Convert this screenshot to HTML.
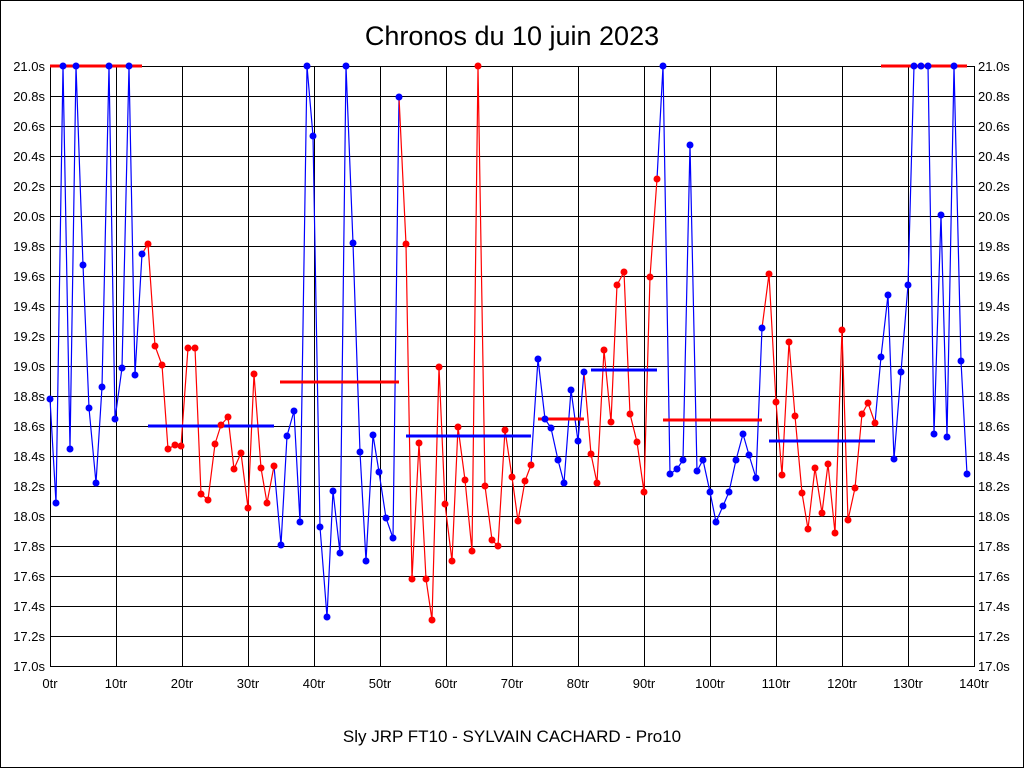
<!DOCTYPE html>
<html><head><meta charset="utf-8"><style>
html,body{margin:0;padding:0;background:#fff}
svg{display:block}
text{font-family:"Liberation Sans",Arial,sans-serif}
</style></head><body>
<svg id="s" width="1024" height="768" xmlns="http://www.w3.org/2000/svg">
<rect x="0.5" y="0.5" width="1023" height="767" fill="#fff" stroke="#000"/>
<text x="512" y="45" font-size="27" text-anchor="middle">Chronos du 10 juin 2023</text>
<text x="512" y="742" font-size="17" text-anchor="middle">Sly JRP FT10 - SYLVAIN CACHARD - Pro10</text>
<g id="grid" shape-rendering="crispEdges"></g>
<g id="data"></g>
</svg>
<script>
const NS="http://www.w3.org/2000/svg";
const g=document.getElementById('grid'),d=document.getElementById('data');
function el(p,t,a,txt){const e=document.createElementNS(NS,t);for(const k in a)e.setAttribute(k,a[k]);if(txt!==undefined)e.textContent=txt;p.appendChild(e);return e;}
for(let i=0;i<=20;i++){const y=66+i*30;el(g,'line',{x1:50,x2:975,y1:y+0.5,y2:y+0.5,stroke:'#000','stroke-width':1});
const v=(21-i*0.2).toFixed(1)+'s';
el(g,'text',{x:45,y:y+5,'font-size':13,'text-anchor':'end'},v);
el(g,'text',{x:978,y:y+5,'font-size':13},v);}
for(let i=0;i<=14;i++){const x=50+i*66;el(g,'line',{x1:x+0.5,x2:x+0.5,y1:66,y2:667,stroke:'#000','stroke-width':1});
el(g,'text',{x:x,y:688,'font-size':13,'text-anchor':'middle'},(i*10)+'tr');}
const segs=[
['#00f',[50,399,56,503,63,66,70,449,76,66,83,265,89,408,96,483,102,387,109,66,115,419,122,368,129,66,135,375,142,254]],
['#f00',[148,244,155,346,162,365,168,449,175,445,181,446,188,348,195,348,201,494,208,500,215,444,221,425,228,417,234,469,241,453,248,508,254,374,261,468,267,503,274,466]],
['#00f',[281,545,287,436,294,411,300,522,307,66,313,136,320,527,327,617,333,491,340,553,346,66,353,243,360,452,366,561,373,435,379,472,386,518,393,538,399,97]],
['#f00',[406,244,412,579,419,443,426,579,432,620,439,367,445,504,452,561,458,427,465,480,472,551,478,66,485,486,492,540,498,546,505,430,512,477,518,521,525,481,531,465]],
['#00f',[538,359,545,419,551,428,558,460,564,483,571,390,578,441,584,372]],
['#f00',[591,454,597,483,604,350,611,422,617,285,624,272,630,414,637,442,644,492,650,277,657,179]],
['#00f',[663,66,670,474,677,469,683,460,690,145,697,471,703,460,710,492,716,522,723,506,729,492,736,460,743,434,749,455,756,478,762,328]],
['#f00',[769,274,776,402,782,475,789,342,795,416,802,493,808,529,815,468,822,513,828,464,835,533,842,330,848,520,855,488,862,414,868,403,875,423]],
['#00f',[881,357,888,295,894,459,901,372,908,285,914,66,921,66,928,66,934,434,941,215,947,437,954,66,961,361,967,474]]];
const avgs=[['#f00',50,142,66],['#00f',148,274,426],['#f00',280,399,382],['#00f',406,531,436],['#f00',538,584,419],['#00f',591,657,370],['#f00',663,762,420],['#00f',769,875,441],['#f00',881,967,66]];
let prev=null;
segs.forEach(([c,p])=>{let pts=p.slice();if(prev)pts=[prev[0],prev[1]].concat(pts);
let s='';for(let i=0;i<pts.length;i+=2)s+=pts[i]+','+pts[i+1]+' ';
el(d,'polyline',{points:s,fill:'none',stroke:c,'stroke-width':1.2});
prev=[p[p.length-2],p[p.length-1]];});
avgs.forEach(([c,x1,x2,y])=>el(d,'line',{x1,x2,y1:y,y2:y,stroke:c,'stroke-width':3}));
segs.forEach(([c,p])=>{for(let i=0;i<p.length;i+=2)el(d,'circle',{cx:p[i],cy:p[i+1],r:3.5,fill:c});});
</script>
</body></html>
